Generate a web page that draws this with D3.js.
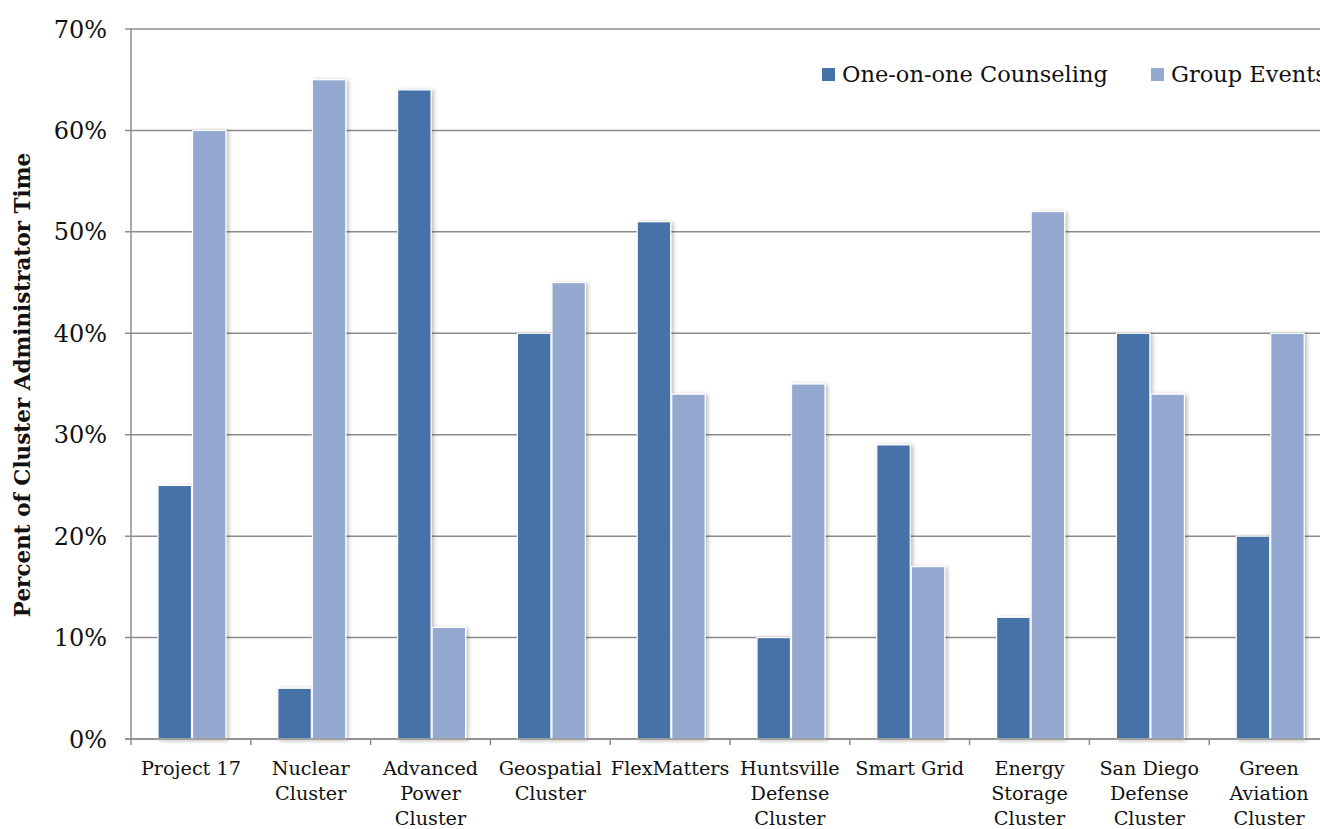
<!DOCTYPE html>
<html><head><meta charset="utf-8">
<script src="https://cdn.jsdelivr.net/npm/d3@7"></script>
<style>body{margin:0;background:#fff;}svg{display:block;}</style>
</head><body>
<svg id="c" width="1320" height="829"></svg>
<script>
const categories = [["Project 17"],["Nuclear","Cluster"],["Advanced","Power","Cluster"],["Geospatial","Cluster"],["FlexMatters"],["Huntsville","Defense","Cluster"],["Smart Grid"],["Energy","Storage","Cluster"],["San Diego","Defense","Cluster"],["Green","Aviation","Cluster"]];
const seriesNames = ["One-on-one Counseling","Group Events"];
const counseling = [25,5,64,40,51,10,29,12,40,20];
const groupEvents = [60,65,11,45,34,35,17,52,34,40];
const yTicks = [0,10,20,30,40,50,60,70];
const colors = ["#4672a8","#94a9d0"];
const font = "'DejaVu Serif', serif";

const svg = d3.select("#c");
const L = 131, R = 1329, T = 29, B = 739;
const keys = categories.map((d,i)=>i);
const x = d3.scaleBand().domain(keys).range([L,R]).paddingInner(0).paddingOuter(0);
const x1 = d3.scaleBand().domain([0,1]).range([27,95]).paddingInner(0.03);
const y = d3.scaleLinear().domain([0,70]).range([B,T]);

const defs = svg.append("defs");
const f = defs.append("filter").attr("id","sh").attr("x","-20%").attr("y","-5%").attr("width","150%").attr("height","115%");
f.append("feDropShadow").attr("dx",2).attr("dy",1).attr("stdDeviation",2).attr("flood-color","#000").attr("flood-opacity",0.28);

svg.append("g").selectAll("line").data(yTicks).join("line")
  .attr("x1",125).attr("x2",1320).attr("y1",d=>y(d)).attr("y2",d=>y(d))
  .attr("stroke","#8c8c8c").attr("stroke-width",1.5);
svg.append("g").selectAll("text").data(yTicks).join("text")
  .attr("x",107).attr("y",d=>y(d)+8.5).attr("text-anchor","end")
  .attr("font-family",font).attr("font-size",24).attr("fill","#111").text(d=>d+"%");

const data = [counseling, groupEvents];
const g = svg.append("g");
categories.forEach((c,i)=>{
  data.forEach((s,j)=>{
    g.append("rect").attr("x",x(i)+x1(j)).attr("width",x1.bandwidth())
      .attr("y",y(s[i])).attr("height",B-y(s[i]))
      .attr("fill",colors[j]).attr("stroke","#fff").attr("stroke-width",1.2)
      .attr("filter","url(#sh)");
  });
});

svg.append("line").attr("x1",L).attr("x2",L).attr("y1",T).attr("y2",B+6).attr("stroke","#8c8c8c").attr("stroke-width",1.5);
svg.append("line").attr("x1",125).attr("x2",1320).attr("y1",B).attr("y2",B).attr("stroke","#8c8c8c").attr("stroke-width",1.5);
svg.append("g").selectAll("line").data(keys.slice(1)).join("line")
  .attr("x1",d=>x(d)).attr("x2",d=>x(d)).attr("y1",B).attr("y2",B+6)
  .attr("stroke","#8c8c8c").attr("stroke-width",1.5);

const cl = svg.append("g");
categories.forEach((c,i)=>{
  const t = cl.append("text").attr("x",x(i)+x.bandwidth()/2).attr("y",775)
    .attr("text-anchor","middle").attr("font-family",font).attr("font-size",19.2).attr("fill","#111");
  c.forEach((line,k)=>t.append("tspan").attr("x",x(i)+x.bandwidth()/2).attr("dy",k?25:0).text(line));
});

svg.append("text").attr("transform","translate(30,385) rotate(-90)").attr("text-anchor","middle")
  .attr("font-family",font).attr("font-weight","bold").attr("font-size",21.5).attr("fill","#111")
  .text("Percent of Cluster Administrator Time");

const lg = svg.append("g");
const legX = [822,1151];
seriesNames.forEach((n,j)=>{
  lg.append("rect").attr("x",legX[j]).attr("y",68).attr("width",13).attr("height",13).attr("fill",colors[j]);
  lg.append("text").attr("x",legX[j]+20).attr("y",82).attr("font-family",font).attr("font-size",22.5).attr("fill","#111").text(n);
});
</script>
</body></html>
